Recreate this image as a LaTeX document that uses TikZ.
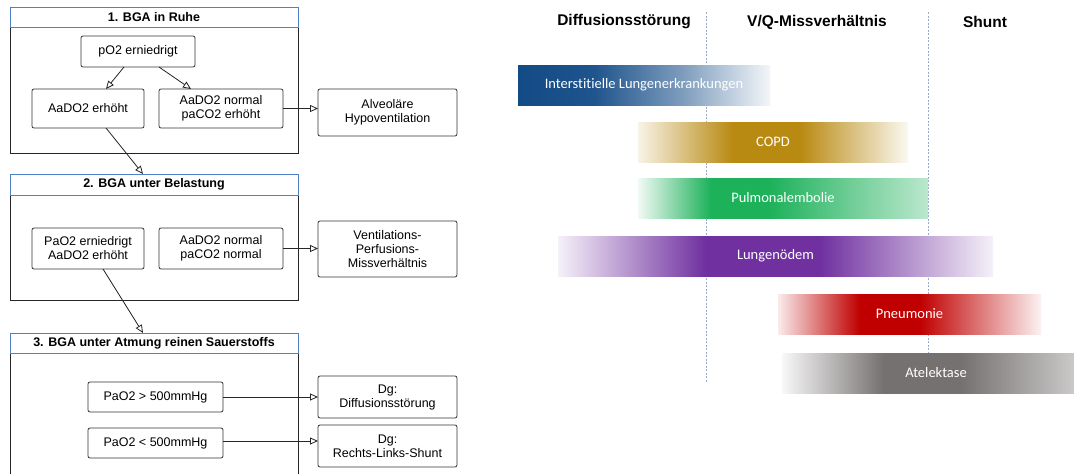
\documentclass[tikz,border=0pt]{standalone}
\usepackage{fontspec}
\setmainfont{Liberation Sans}
\newfontfamily\barfont[Ligatures=NoCommon]{Carlito}
\usetikzlibrary{arrows.meta}

% base colours of the bars
\definecolor{ildblue}{HTML}{134B86}
\definecolor{copdgold}{HTML}{B98A12}
\definecolor{pegreen}{HTML}{1DB15A}
\definecolor{oedpurple}{HTML}{7030A0}
\definecolor{pneured}{HTML}{C00000}
\definecolor{atgray}{HTML}{767171}
\definecolor{titleblue}{HTML}{4F81C7}
\definecolor{gridblue}{HTML}{9AAAC8}

% intermediate tints
\colorlet{ildA}{ildblue}
\colorlet{ildB}{ildblue!95!white}
\colorlet{ildC}{ildblue!55!white}
\colorlet{ildD}{ildblue!5!white}
\colorlet{copdA}{copdgold!10!white}
\colorlet{copdB}{copdgold}
\colorlet{copdD}{copdgold!6!white}
\colorlet{peA}{pegreen!6!white}
\colorlet{peB}{pegreen}
\colorlet{peD}{pegreen!30!white}
\colorlet{oedA}{oedpurple!7!white}
\colorlet{oedB}{oedpurple}
\colorlet{oedD}{oedpurple!7!white}
\colorlet{pneA}{pneured!8!white}
\colorlet{pneB}{pneured}
\colorlet{pneD}{pneured!5!white}
\colorlet{atA}{atgray!5!white}
\colorlet{atB}{atgray}
\colorlet{atD}{atgray!30!white}

% horizontal shadings: the path spans 25bp..75bp
\pgfdeclarehorizontalshading{ildshade}{100bp}{color(0bp)=(ildA); color(25bp)=(ildA); color(40bp)=(ildB); color(57.5bp)=(ildC); color(75bp)=(ildD); color(100bp)=(ildD)}
\pgfdeclarehorizontalshading{copdshade}{100bp}{color(0bp)=(copdA); color(25bp)=(copdA); color(42.5bp)=(copdB); color(55bp)=(copdB); color(75bp)=(copdD); color(100bp)=(copdD)}
\pgfdeclarehorizontalshading{peshade}{100bp}{color(0bp)=(peA); color(25bp)=(peA); color(37.5bp)=(peB); color(47.5bp)=(peB); color(75bp)=(peD); color(100bp)=(peD)}
\pgfdeclarehorizontalshading{oedshade}{100bp}{color(0bp)=(oedA); color(25bp)=(oedA); color(42bp)=(oedB); color(55bp)=(oedB); color(75bp)=(oedD); color(100bp)=(oedD)}
\pgfdeclarehorizontalshading{pneshade}{100bp}{color(0bp)=(pneA); color(25bp)=(pneA); color(40.5bp)=(pneB); color(52bp)=(pneB); color(75bp)=(pneD); color(100bp)=(pneD)}
\pgfdeclarehorizontalshading{atshade}{100bp}{color(0bp)=(atA); color(25bp)=(atA); color(41.5bp)=(atB); color(54bp)=(atB); color(75bp)=(atD); color(100bp)=(atD)}

\tikzset{
  box/.style={draw=black!80, line width=0.8pt, rounded corners=2pt, inner sep=0pt, outer sep=0pt,
    align=center, font=\fontsize{12.5}{14}\selectfont},
  framebody/.style={draw=black!85, line width=0.9pt, inner sep=0pt, outer sep=0pt},
  titlebar/.style={draw=titleblue, line width=0.9pt, fill=white, inner sep=0pt, outer sep=0pt,
    font=\bfseries\fontsize{12.5}{14}\selectfont},
  flow/.style={draw=black!85, line width=0.8pt, -{Triangle[open, length=8pt, width=7pt]}},
  header/.style={font=\bfseries\fontsize{15.5}{18}\selectfont, inner sep=0pt},
  bar/.style={shade, draw=none, minimum height=40pt, inner sep=0pt, outer sep=0pt,
    text=white, font=\barfont\fontsize{14.5}{16}\selectfont},
  grid/.style={draw=gridblue, line width=0.7pt, dash pattern=on 2pt off 1.5pt}
}

\begin{document}
\begin{tikzpicture}[x=1pt, y=-1pt]
\useasboundingbox (0,0) rectangle (1074,474);
\clip (0,0) rectangle (1074,474);
\fill[white] (0,0) rectangle (1074,474);

% ---------- stage 1: resting blood gas ----------
\node[framebody, minimum width=288pt, minimum height=126pt] (f1) at (154,90) {};
\node[titlebar, minimum width=288pt, minimum height=20pt] (t1) at (154,17) {1. BGA in Ruhe};
\node[box, minimum width=114pt, minimum height=31pt] (po2) at (138,51.5) {pO2 erniedrigt};
\node[box, minimum width=112pt, minimum height=39pt] (aerh) at (88,108.5) {AaDO2 erhöht};
\node[box, minimum width=124pt, minimum height=39pt] (anorm1) at (221,108.5) {AaDO2 normal\\paCO2 erhöht};
\node[box, minimum width=139pt, minimum height=47pt] (alv) at (387.5,112.5) {Alveoläre\\Hypoventilation};

% ---------- stage 2: exercise ----------
\node[framebody, minimum width=288pt, minimum height=105pt] (f2) at (154,247.5) {};
\node[titlebar, minimum width=288pt, minimum height=21pt] (t2) at (154,184.5) {2. BGA unter Belastung};
\node[box, minimum width=112pt, minimum height=41pt] (pao2) at (88,248.5) {PaO2 erniedrigt\\AaDO2 erhöht};
\node[box, minimum width=124pt, minimum height=41pt] (anorm2) at (221,248.5) {AaDO2 normal\\paCO2 normal};
\node[box, minimum width=139pt, minimum height=56pt] (vent) at (387.5,249) {Ventilations-\\Perfusions-\\Missverhältnis};

% ---------- stage 3: pure oxygen ----------
\node[framebody, minimum width=288pt, minimum height=137pt] (f3) at (154,421.5) {};
\node[titlebar, minimum width=288pt, minimum height=20pt] (t3) at (154,343) {3. BGA unter Atmung reinen Sauerstoffs};
\node[box, minimum width=135pt, minimum height=30pt] (pgt) at (155.5,397) {PaO2 > 500mmHg};
\node[box, minimum width=135pt, minimum height=30pt] (plt) at (155.5,443) {PaO2 < 500mmHg};
\node[box, minimum width=139pt, minimum height=42pt] (dgd) at (387.5,397) {Dg:\\Diffusionsstörung};
\node[box, minimum width=139pt, minimum height=42pt] (dgs) at (387.5,446) {Dg:\\Rechts-Links-Shunt};

% ---------- connectors ----------
\draw[flow] ([xshift=-14pt]po2.south) -- ([xshift=18pt]aerh.north);
\draw[flow] ([xshift=21pt]po2.south) -- ([xshift=-30pt]anorm1.north);
\draw[flow] (anorm1.east) -- (anorm1.east -| alv.west);
\draw[flow] ([xshift=18pt]aerh.south) -- ([xshift=-11pt]t2.north);
\draw[flow] (anorm2.east) -- (anorm2.east -| vent.west);
\draw[flow] ([xshift=15pt]pao2.south) -- ([xshift=-11pt]t3.north);
\draw[flow] (pgt.east) -- (pgt.east -| dgd.west);
\draw[flow] ([yshift=2pt]plt.east) -- ([yshift=2pt]plt.east -| dgs.west);

% ---------- right chart: categories ----------
\node[header] (hdiff) at (624,22) {Diffusionsstörung};
\node[header] (hvq) at (817,22) {V/Q-Missverhältnis};
\node[header] (hshunt) at (985,22) {Shunt};

\coordinate (g1top) at (706,12);
\coordinate (g1bot) at (706,383);
\coordinate (g2top) at (928,12);
\coordinate (g2bot) at (928,383);
\draw[grid] (g1top) -- (g1bot);
\draw[grid] (g2top) -- (g2bot);

% ---------- right chart: disease bars ----------
\node[bar, shading=ildshade, minimum width=252pt] (ild) at (644,85) {Interstitielle Lungenerkrankungen};
\node[bar, shading=copdshade, minimum width=270pt] (copd) at (773,142) {COPD};
\node[bar, shading=peshade, minimum width=290pt] (pe) at (783,198) {Pulmonalembolie};
\node[bar, shading=oedshade, minimum width=435pt] (oed) at (775.5,256) {Lungenödem};
\node[bar, shading=pneshade, minimum width=263pt] (pne) at (909.5,314) {Pneumonie};
\node[bar, shading=atshade, minimum width=308pt] (at) at (936,373) {Atelektase};
\end{tikzpicture}
\end{document}
